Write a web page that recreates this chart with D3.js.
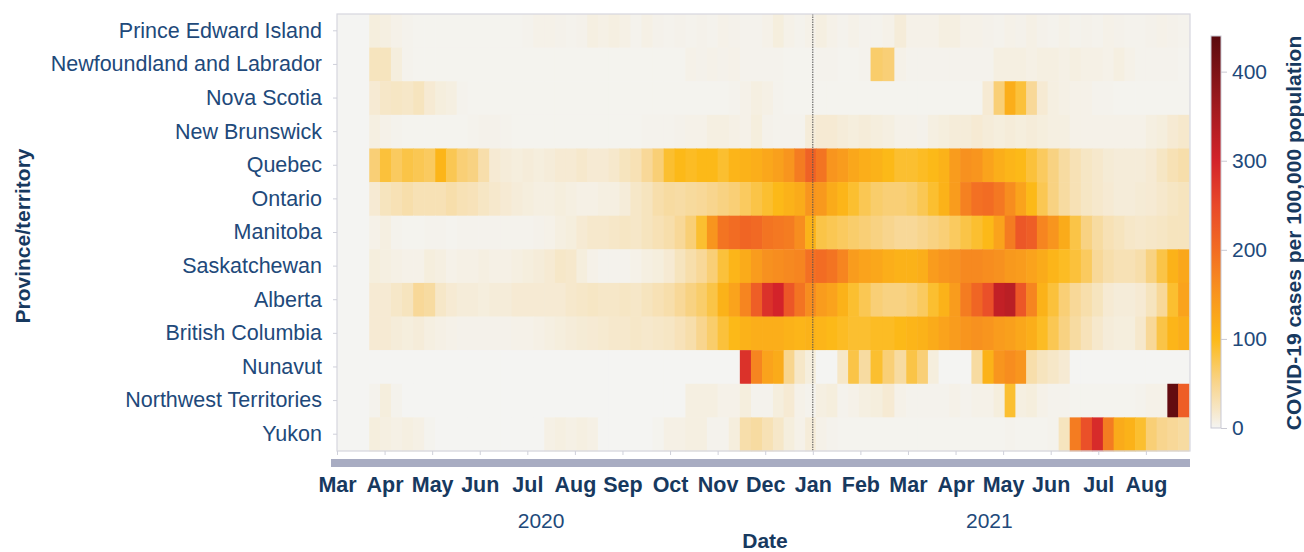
<!DOCTYPE html>
<html>
<head>
  <meta charset="UTF-8">
  <title>COVID-19 cases per 100,000 population by province/territory</title>
  <script src="https://d3js.org/d3.v7.min.js"></script>
  <style>
    body { margin: 0; background: #fff; }
    text { font-family: "Liberation Sans", Arial, Helvetica, sans-serif; }
  </style>
</head>
<body>
  <script>
    // weekly values (cases per 100,000), first week starts 2020-03-22
    var provinces = ["Prince Edward Island", "Newfoundland and Labrador", "Nova Scotia", "New Brunswick",
      "Quebec", "Ontario", "Manitoba", "Saskatchewan", "Alberta", "British Columbia",
      "Nunavut", "Northwest Territories", "Yukon"];

    var peiValues = [10,8,5,3,2,2,2,2,2,2, 2,2,2,2,3,5,5,4,3,4, 8,6,8,6,3,6,4,3,4,3,
      4,3,5,4,3,3,5,10,5,3, 5,8,5,3,5,3,3,5,12,5, 5,5,8,8,5,5,4,3,5,4, 6,4,3,5,3,4,3,5,4,3, 3,4,5,4,3];
    var nlValues = [25,25,10,3,2,2,2,2,2,2, 2,2,2,2,2,2,2,2,2,2, 2,2,2,2,2,2,2,2,2,5,
      4,5,4,5,3,3,3,3,2,2, 2,3,3,2,2,3,65,60,5,3, 3,3,3,3,3,3,3,8,8,8, 6,8,8,6,8,6,6,5,8,5, 3,3,3,3,2];
    var nsValues = [15,20,22,20,25,15,10,8,3,2, 2,2,2,2,2,2,2,2,2,2, 2,2,2,2,2,2,2,2,2,2,
      2,2,2,3,5,8,6,3,2,2, 2,2,2,2,2,2,2,2,2,2, 2,2,2,2,2,2,15,60,115,85, 45,15,8,6,5,5,3,3,2,2, 2,2,2,2,2];
    var nbValues = [8,5,3,2,2,2,2,2,2,3, 4,4,3,2,2,2,2,2,2,2, 2,2,2,2,2,3,3,3,4,5,
      5,8,8,6,5,10,4,3,3,3, 12,15,15,12,10,12,10,8,5,5, 4,8,10,12,12,15,12,10,12,10, 12,10,8,8,5,5,5,5,5,5, 5,8,10,15,18];
    var qcValues = [60,85,70,80,75,70,105,75,60,55, 35,15,12,10,12,10,12,15,15,18, 15,15,18,25,30,45,60,90,100,95,
      100,100,90,105,110,115,125,135,150,180, 215,190,150,140,125,115,110,100,90,90, 95,100,110,140,155,150,130,115,105,100,
      85,70,55,40,30,22,18,14,12,12, 12,15,22,30,35];
    var onValues = [15,25,30,35,30,30,30,35,30,28, 22,18,15,12,10,8,8,10,8,6, 6,8,8,12,20,25,35,40,38,42,
      45,50,55,60,70,80,90,100,110,120, 150,145,120,105,90,75,65,60,60,65, 75,90,110,140,175,195,200,185,160,130,
      100,75,55,40,30,22,18,15,12,12, 14,15,18,22,25];
    var mbValues = [5,8,3,2,2,3,3,2,3,3, 3,3,3,3,3,4,5,8,10,15, 18,18,20,22,20,25,30,35,45,60,
      90,150,190,200,210,205,190,185,180,160, 110,80,75,70,65,60,55,50,45,45, 50,55,60,70,80,90,100,130,180,230,
      220,170,150,120,80,55,40,30,25,20, 18,20,22,25,25];
    var skValues = [10,8,6,5,5,10,8,5,6,6, 8,6,6,8,10,12,15,20,18,10, 5,3,3,3,5,8,10,15,25,35,
      45,60,85,105,120,140,155,160,165,170, 195,200,190,170,140,130,125,115,110,110, 115,140,150,155,165,165,160,155,145,140,
      130,120,105,95,85,70,45,35,30,30, 35,55,80,110,125];
    var abValues = [15,15,20,25,45,40,20,15,12,12, 10,12,12,15,15,15,15,15,18,20, 22,20,20,22,20,25,30,35,45,55,
      65,80,110,130,170,220,280,300,230,190, 160,140,130,110,90,75,60,55,55,60, 70,90,110,140,180,210,240,320,330,230,
      170,110,85,60,45,35,25,15,12,12, 15,25,45,90,130];
    var bcValues = [15,15,12,10,12,8,6,5,4,4, 4,4,4,5,5,6,8,10,12,14, 15,16,18,18,20,18,20,22,28,35,
      50,65,85,100,110,115,115,115,110,105, 110,105,100,95,90,90,95,95,100,105, 110,120,130,140,150,155,150,140,135,125,
      115,95,75,55,40,28,18,12,10,10, 18,45,80,105,115];
    var nuValues = [0,0,0,0,0,0,0,0,0,0, 0,0,0,0,0,0,0,0,0,0, 0,0,0,0,0,0,0,0,0,0,
      0,0,0,0,280,170,130,120,50,20, 10,0,0,20,80,40,90,60,40,80, 60,10,0,0,0,40,110,150,160,150,
      35,25,20,15,0,0,0,0,0,0, 0,0,0,0,0];
    var ntValues = [3,10,3,0,0,0,0,0,0,0, 0,0,0,0,0,0,0,0,0,0, 0,0,0,0,0,0,0,0,0,8,
      8,8,5,5,10,3,3,10,15,5, 3,8,10,3,5,8,10,15,5,3, 3,3,3,5,3,5,5,10,90,8,
      10,5,3,3,2,2,2,2,2,2, 3,5,5,430,220];
    var ytValues = [10,8,6,8,6,2,0,0,0,0, 0,0,0,0,0,0,6,8,6,8, 6,0,0,0,0,0,2,6,6,8,
      8,3,3,10,35,40,30,20,10,5, 12,5,3,2,2,2,2,2,2,2, 2,2,2,2,2,2,2,2,3,2,
      2,2,3,25,180,240,290,180,120,110, 90,60,50,45,40];

    var monthLabels = ["Mar", "Apr", "May", "Jun", "Jul", "Aug", "Sep", "Oct", "Nov", "Dec",
      "Jan", "Feb", "Mar", "Apr", "May", "Jun", "Jul", "Aug"];
    var yearLabels = ["2020", "2021"];
    var legendTicks = [0, 100, 200, 300, 400];

    var rows = [peiValues, nlValues, nsValues, nbValues, qcValues, onValues, mbValues,
      skValues, abValues, bcValues, nuValues, ntValues, ytValues];

    var firstWeek = new Date(2020, 2, 22);
    var plot = { left: 337, right: 1190, top: 14, bottom: 451 };
    var labelColor = "#21497a";
    var titleColor = "#17395f";

    var svg = d3.select("body")
      .append("svg")
      .attr("width", 1304)
      .attr("height", 552);

    // months are spaced evenly on the axis, days spread inside their month
    function monthPos(date) {
      var days = new Date(date.getFullYear(), date.getMonth() + 1, 0).getDate();
      return (date.getFullYear() - 2020) * 12 + date.getMonth() - 2 + (date.getDate() - 1) / days;
    }

    var xScale = d3.scaleLinear().domain([0, 18]).range([plot.left, plot.left + 18 * 47.58]);
    var yScale = d3.scaleBand().domain(provinces).range([plot.top, plot.bottom]);

    var colorScale = d3.scaleLinear()
      .domain([0, 20, 50, 100, 150, 200, 250, 300, 360, 440])
      .range(["#f4f4f2", "#f6e7c8", "#f8d58e", "#fcb918", "#f8951e", "#f26c23", "#e8492a", "#d3232a", "#a11a1f", "#5a0a0e"])
      .clamp(true);

    // plot background
    svg.append("rect")
      .attr("x", plot.left)
      .attr("y", plot.top)
      .attr("width", plot.right - plot.left)
      .attr("height", plot.bottom - plot.top)
      .attr("fill", "#f4f4f2");

    var cells = [];
    rows.forEach(function (values, r) {
      values.forEach(function (v, i) {
        cells.push({ province: provinces[r], week: i, value: v });
      });
    });

    function weekX(i) {
      return xScale(monthPos(d3.timeDay.offset(firstWeek, 7 * i)));
    }

    svg.append("g")
      .selectAll("rect")
      .data(cells)
      .enter()
      .append("rect")
      .attr("x", function (d) { return weekX(d.week); })
      .attr("y", function (d) { return yScale(d.province); })
      .attr("width", function (d) { return weekX(d.week + 1) - weekX(d.week) + 0.6; })
      .attr("height", yScale.bandwidth() + 0.4)
      .attr("fill", function (d) { return colorScale(d.value); });

    // Jan 1 2021 marker
    svg.append("line")
      .attr("x1", xScale(10)).attr("x2", xScale(10))
      .attr("y1", plot.top).attr("y2", plot.bottom)
      .attr("stroke", "#555")
      .attr("stroke-width", 1)
      .attr("stroke-dasharray", "1.5,1");

    // frame
    svg.append("rect")
      .attr("x", plot.left)
      .attr("y", plot.top)
      .attr("width", plot.right - plot.left)
      .attr("height", plot.bottom - plot.top)
      .attr("fill", "none")
      .attr("stroke", "#d6d6de")
      .attr("stroke-width", 1.2);

    // y axis
    var yAxis = d3.axisLeft(yScale).tickSize(4).tickPadding(11);
    var gy = svg.append("g")
      .attr("transform", "translate(" + plot.left + ",0)")
      .call(yAxis);
    gy.select(".domain").remove();
    gy.selectAll(".tick line").attr("stroke", "#cfd0da");
    gy.selectAll(".tick text")
      .attr("fill", labelColor)
      .style("font-size", "21.5px");

    // x axis
    var xAxis = d3.axisBottom(xScale)
      .tickValues(d3.range(monthLabels.length))
      .tickFormat(function (i) { return monthLabels[i]; })
      .tickSize(4)
      .tickPadding(22);
    var gx = svg.append("g")
      .attr("transform", "translate(0," + plot.bottom + ")")
      .call(xAxis);
    gx.select(".domain").remove();
    gx.selectAll(".tick line").attr("stroke", "#cfd0da");
    gx.selectAll(".tick text")
      .attr("fill", titleColor)
      .style("font-size", "21.5px")
      .style("font-weight", "bold");

    // range bar under the axis
    svg.append("rect")
      .attr("x", plot.left - 6)
      .attr("y", 459)
      .attr("width", plot.right - plot.left + 6)
      .attr("height", 8)
      .attr("fill", "#a8acc2");

    // years
    var yearAt = [4.29, 13.71];
    svg.selectAll(".year")
      .data(yearLabels)
      .enter()
      .append("text")
      .attr("class", "year")
      .attr("x", function (d, i) { return xScale(yearAt[i]); })
      .attr("y", 528)
      .attr("text-anchor", "middle")
      .attr("fill", labelColor)
      .style("font-size", "21px")
      .text(function (d) { return d; });

    svg.append("text")
      .attr("x", 765)
      .attr("y", 548)
      .attr("text-anchor", "middle")
      .attr("fill", titleColor)
      .style("font-size", "21px")
      .style("font-weight", "bold")
      .text("Date");

    svg.append("text")
      .attr("transform", "translate(30,236) rotate(-90)")
      .attr("text-anchor", "middle")
      .attr("fill", titleColor)
      .style("font-size", "21px")
      .style("font-weight", "bold")
      .text("Province/territory");

    // colour legend
    var legendScale = d3.scaleLinear().domain([0, 440]).range([428, 36]);
    var grad = svg.append("defs")
      .append("linearGradient")
      .attr("id", "legendGrad")
      .attr("x1", "0").attr("y1", "1")
      .attr("x2", "0").attr("y2", "0");
    grad.selectAll("stop")
      .data(colorScale.domain())
      .enter()
      .append("stop")
      .attr("offset", function (d) { return d / 440; })
      .attr("stop-color", function (d) { return colorScale(d); });

    svg.append("rect")
      .attr("x", 1211)
      .attr("y", legendScale(440))
      .attr("width", 10)
      .attr("height", legendScale(0) - legendScale(440))
      .attr("fill", "url(#legendGrad)")
      .attr("stroke", "#c9c9d3")
      .attr("stroke-width", 1);

    var legendAxis = d3.axisRight(legendScale)
      .tickValues(legendTicks)
      .tickSize(6)
      .tickPadding(5);
    var gl = svg.append("g")
      .attr("transform", "translate(1221,0)")
      .call(legendAxis);
    gl.select(".domain").remove();
    gl.selectAll(".tick line").attr("stroke", "#c9c9d3");
    gl.selectAll(".tick text")
      .attr("fill", labelColor)
      .style("font-size", "21px");

    svg.append("text")
      .attr("transform", "translate(1301,233) rotate(-90)")
      .attr("text-anchor", "middle")
      .attr("fill", titleColor)
      .style("font-size", "21px")
      .style("font-weight", "bold")
      .text("COVID-19 cases per 100,000 population");
  </script>
</body>
</html>
